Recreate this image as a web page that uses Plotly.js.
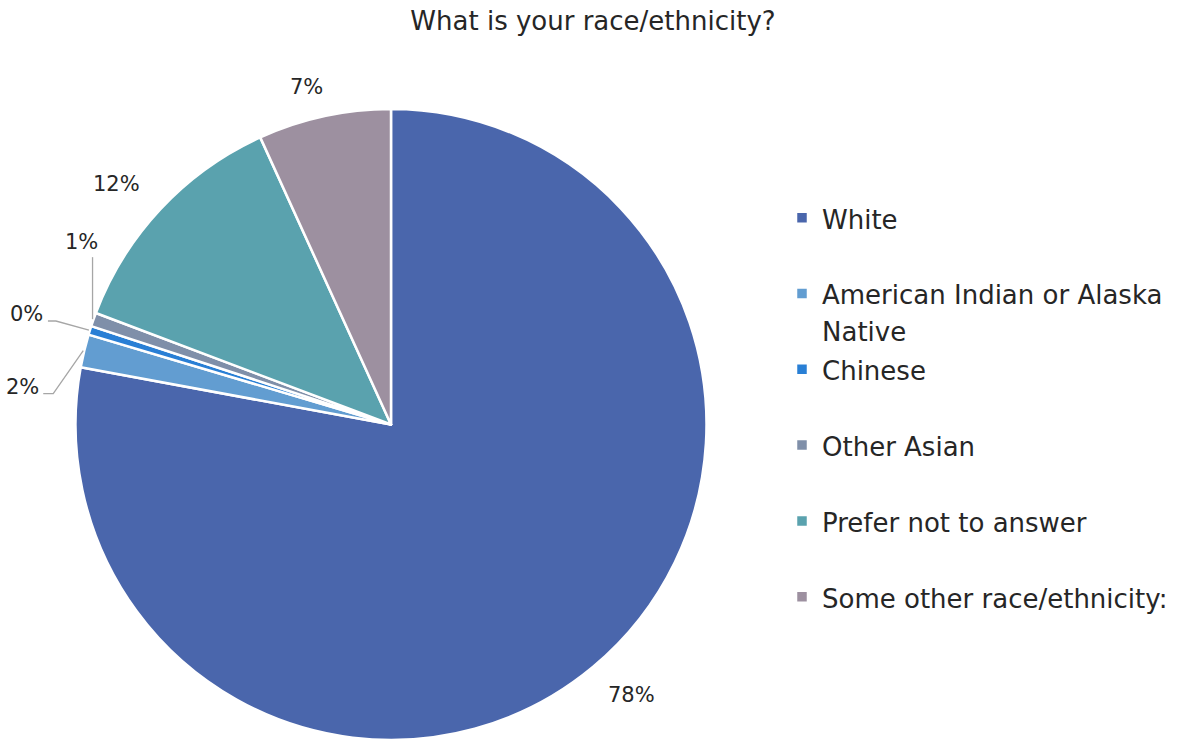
<!DOCTYPE html>
<html>
<head>
<meta charset="utf-8">
<script src="https://cdn.plot.ly/plotly-3.0.1.min.js"></script>
<style>html,body{margin:0;padding:0;background:#fff;}#chart{width:1180px;height:740px;}</style>
</head>
<body>
<div id="chart"></div>
<script>
// ---- data ----
const categories = ["White", "American Indian or Alaska Native", "Chinese", "Other Asian", "Prefer not to answer", "Some other race/ethnicity:"];
const legendLines = [["White"], ["American Indian or Alaska", "Native"], ["Chinese"], ["Other Asian"], ["Prefer not to answer"], ["Some other race/ethnicity:"]];
const shares = [77.9, 1.7, 0.45, 0.7, 12.45, 6.8];
const colors = ["#4A66AC", "#629DD1", "#297FD5", "#7F8FA9", "#5AA2AE", "#9D90A0"];
const chartTitle = "What is your race/ethnicity?";

// ---- geometry (layout) ----
const W = 1180, H = 740;
const CX = 391, CY = 424.5, R = 315.5;
const FONT = "DejaVu Sans";
const LEGEND_TEXT = 26;
const LABEL_SIZE = 21;

const total = shares.reduce((a, b) => a + b, 0);
const px = x => x / W;
const py = y => 1 - y / H;

// legend labels: every entry spans two lines so entries are evenly spaced
const legendLabels = legendLines.map(lines => {
  const l = lines.length > 1 ? lines : [lines[0], " "];
  return l.map(s => `<span style="font-size:${LEGEND_TEXT}px">${s}</span>`).join("<br>");
});

// label placement styles
const labelStyle = [
  {type: "out"},
  {type: "leader", d1: [-30, 43], d2: [-10, 0], lab: [-2, -7], anchor: "right"},
  {type: "leader", d1: [-33, -9], d2: [-8, 0], lab: [-3, -7], anchor: "right"},
  {type: "leader", d1: [0, -62], d2: [0, 0], lab: [-11, -15], anchor: "center"},
  {type: "out"},
  {type: "out"}
];
const LABEL_ROT = -1.9 * Math.PI / 180;

const annotations = [];
const shapes = [];
let cum = 0;
shares.forEach((v, i) => {
  const frac = v / total;
  const mid = (cum + frac / 2) * 2 * Math.PI;
  cum += frac;
  const txt = Math.round(frac * 100) + "%";
  const st = labelStyle[i];
  if (st.type === "out") {
    const a = mid + LABEL_ROT;
    const ux = Math.sin(a), uy = -Math.cos(a);
    const r = R + 24 + Math.abs(ux) * 34;
    annotations.push({x: px(CX + ux * r), y: py(CY + uy * r), xref: "paper", yref: "paper",
      text: txt, showarrow: false, xanchor: "center", yanchor: "middle",
      font: {family: FONT, size: LABEL_SIZE, color: "#262626"}});
  } else {
    const ux = Math.sin(mid), uy = -Math.cos(mid);
    const ax = CX + ux * (R + 1), ay = CY + uy * (R + 1);
    const ex = ax + st.d1[0], ey = ay + st.d1[1];
    const fx = ex + st.d2[0], fy = ey + st.d2[1];
    shapes.push({type: "path", xref: "paper", yref: "paper",
      path: `M${px(ax)},${py(ay)} L${px(ex)},${py(ey)} L${px(fx)},${py(fy)}`,
      line: {color: "#A6A6A6", width: 1.3}});
    annotations.push({x: px(fx + st.lab[0]), y: py(fy + st.lab[1]), xref: "paper", yref: "paper",
      text: txt, showarrow: false, xanchor: st.anchor, yanchor: "middle",
      font: {family: FONT, size: LABEL_SIZE, color: "#262626"}});
  }
});

const trace = {
  type: "pie",
  labels: legendLabels,
  values: shares,
  sort: false,
  direction: "clockwise",
  rotation: 0,
  textinfo: "none",
  hoverinfo: "label+percent",
  marker: {colors: colors, line: {color: "#FFFFFF", width: 2.5}},
  domain: {x: [px(CX - R), px(CX + R)], y: [py(CY + R), py(CY - R)]}
};

const layout = {
  width: W, height: H,
  margin: {l: 0, r: 0, t: 0, b: 0},
  paper_bgcolor: "#FFFFFF",
  title: {text: chartTitle, x: 593 / W, xanchor: "center", y: 1 - 21 / H, yanchor: "middle", yref: "container",
    font: {family: FONT, size: 26, color: "#262626"}},
  showlegend: true,
  legend: {x: 782 / W, xanchor: "left", y: py(193), yanchor: "top", valign: "top",
    font: {family: FONT, size: 28, color: "#262626"}, bgcolor: "rgba(0,0,0,0)"},
  annotations: annotations,
  shapes: shapes
};

Plotly.newPlot("chart", [trace], layout, {displayModeBar: false, staticPlot: true});
</script>
</body>
</html>
